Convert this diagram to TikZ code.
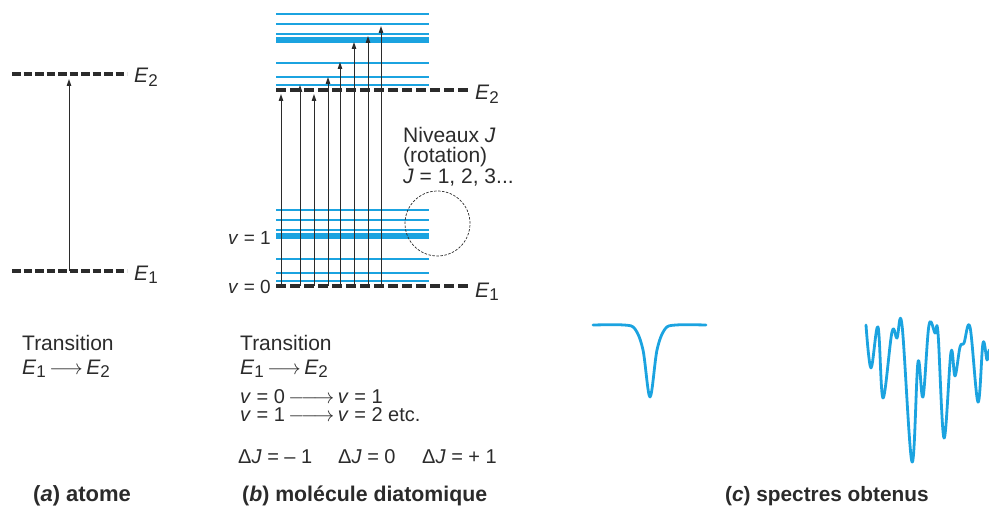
\documentclass[tikz,border=0pt]{standalone}
\usepackage{amsmath}
\usepackage{fontspec}
\setmainfont{Liberation Sans}
\usepackage{tikz}
\usetikzlibrary{arrows.meta,positioning}
\definecolor{spcBlue}{HTML}{1BA3E0}
\definecolor{spcInk}{HTML}{2B2B2B}
\newcommand{\lvl}[2]{\textit{#1}\raisebox{-0.3ex}{\fontsize{17}{17}\selectfont #2}}
\newcommand{\tto}{\,$\longrightarrow$\,}
\newcommand{\ttto}{\,$\relbar\joinrel\relbar\joinrel\rightarrow$\,}
\tikzset{
  spclevel/.style={line width=3.6pt,spcInk,dash pattern=on 8.5pt off 3pt},
  spclevelb/.style={spclevel,dash pattern=on 10pt off 4pt},
  spcthin/.style={spcBlue,line width=1.3pt},
  spcthick/.style={spcBlue,line width=6pt},
  spcarrow/.style={-{Triangle[length=7pt,width=4.5pt]},line width=1pt,spcInk},
  spclabel/.style={font=\fontsize{21}{24}\selectfont,text=spcInk,inner sep=0pt,
                   align=left},
  spcsmall/.style={spclabel,font=\fontsize{20}{17}\selectfont},
  spctitle/.style={spclabel,font=\fontsize{21.3}{22}\selectfont\bfseries}
}
\tikzset{
  spccurve/.style={spcBlue,line width=2.8pt,line join=round,line cap=round}
}

\begin{document}
\begin{tikzpicture}[x=1pt,y=-1pt]
    \useasboundingbox (0,0) rectangle (989,508);

    \begin{scope}
      \coordinate (a2) at (12,74);
      \coordinate (a2e) at (127,74);
      \coordinate (a1) at (12,271);
      \coordinate (a1e) at (127,271);
      \coordinate (ta) at (69,271);
      \coordinate (tb) at (69,79);
      \draw[spcarrow] (ta) -- (tb);
      \draw[spclevel] (a2) -- (a2e);
      \draw[spclevel] (a1) -- (a1e);
      \node[spclabel,anchor=base west] (aE2) at (134,83) {\lvl{E}{2}};
      \node[spclabel,anchor=base west] (aE1) at (134,280) {\lvl{E}{1}};
      \node[spclabel,anchor=north west] (atr) at (22,335)
        {Transition\\\lvl{E}{1}\tto\lvl{E}{2}};
      \node[spctitle,anchor=base west,font=\fontsize{22}{22}\selectfont\bfseries]
        (acap) at (33,501) {(\textit{a}) atome};
    \end{scope}

    \begin{scope}
      \foreach \yb in {90,286} {
        \foreach \dy in {-76,-66,-56,-27,-13,-5}
          \draw[spcthin] (276,\yb+\dy) -- (429,\yb+\dy);
        \draw[spcthick] (276,\yb-50) -- (429,\yb-50);
      }
      \foreach \i/\xa/\ya in {1/281/94,2/300/85,3/314/94,4/328/77,
                              5/340/62,6/354/42,7/368/36,8/381/26} {
        \coordinate (lo\i) at (\xa,286);
        \coordinate (hi\i) at (\xa,\ya);
        \draw[spcarrow] (lo\i) -- (hi\i);
      }
      \coordinate (b2) at (276,90);
      \coordinate (b2e) at (468,90);
      \coordinate (b1) at (276,286);
      \coordinate (b1e) at (468,286);
      \draw[spclevelb] (b2) -- (b2e);
      \draw[spclevelb] (b1) -- (b1e);
      \node[spclabel,anchor=base west] (bE2) at (475,100) {\lvl{E}{2}};
      \node[spclabel,anchor=base west] (bE1) at (475,297) {\lvl{E}{1}};
      \node[spcsmall,font=\fontsize{19}{17}\selectfont,anchor=base east]
        (bv1) at (271,244) {\textit{v} = 1};
      \node[spcsmall,font=\fontsize{19}{17}\selectfont,anchor=base east]
        (bv0) at (271,293) {\textit{v} = 0};
      \node[spclabel,anchor=north west,font=\fontsize{21}{20.5}\selectfont]
        (bniv) at (403,127) {Niveaux \textit{J}\\(rotation)\\\textit{J} = 1, 2, 3...};
      \node[circle,draw=spcInk,line width=0.7pt,dash pattern=on 2.5pt off 1.5pt,
            minimum size=65pt,inner sep=0pt] (brot) at (437.5,223.5) {};
      \node[spclabel,anchor=north west] (btr) at (240,335)
        {Transition\\\lvl{E}{1}\tto\lvl{E}{2}};
      \node[spcsmall,anchor=base west] (bvib0) at (240,403)
        {\textit{v} = 0\ttto\textit{v} = 1};
      \node[spcsmall,anchor=base west] (bvib1) at (240,421)
        {\textit{v} = 1\ttto\textit{v} = 2 etc.};
      \node[spcsmall,anchor=base west] (bdj1) at (238,463) {Δ\textit{J} = – 1};
      \node[spcsmall,anchor=base west] (bdj2) at (338,463) {Δ\textit{J} = 0};
      \node[spcsmall,anchor=base west] (bdj3) at (422,463) {Δ\textit{J} = + 1};
      \node[spctitle,anchor=base west] (bcap) at (242,501)
        {(\textit{b}) molécule diatomique};
    \end{scope}

    \begin{scope}
      \draw[spccurve] plot[smooth,tension=0.55] coordinates {
        (593,325) (624,325) (635,329) (643,350) (650,397)
        (657,350) (665,329) (676,325) (706,325)};
      \draw[spccurve] plot[smooth,tension=0.6] coordinates {
        (866,325) (871,368) (878,327) (883,398) (892,332) (897,338)
        (902,325) (912,462) (918,362) (923,397) (929,325) (935,333)
        (938,333) (944,438) (951,352) (955,376) (960,347) (964,343)
        (970,327) (978,402) (983,343) (987,360) (989,350)};
      \node[spctitle,anchor=base west,font=\fontsize{20.8}{22}\selectfont\bfseries]
        (ccap) at (725,501) {(\textit{c}) spectres obtenus};
    \end{scope}
\end{tikzpicture}
\end{document}
